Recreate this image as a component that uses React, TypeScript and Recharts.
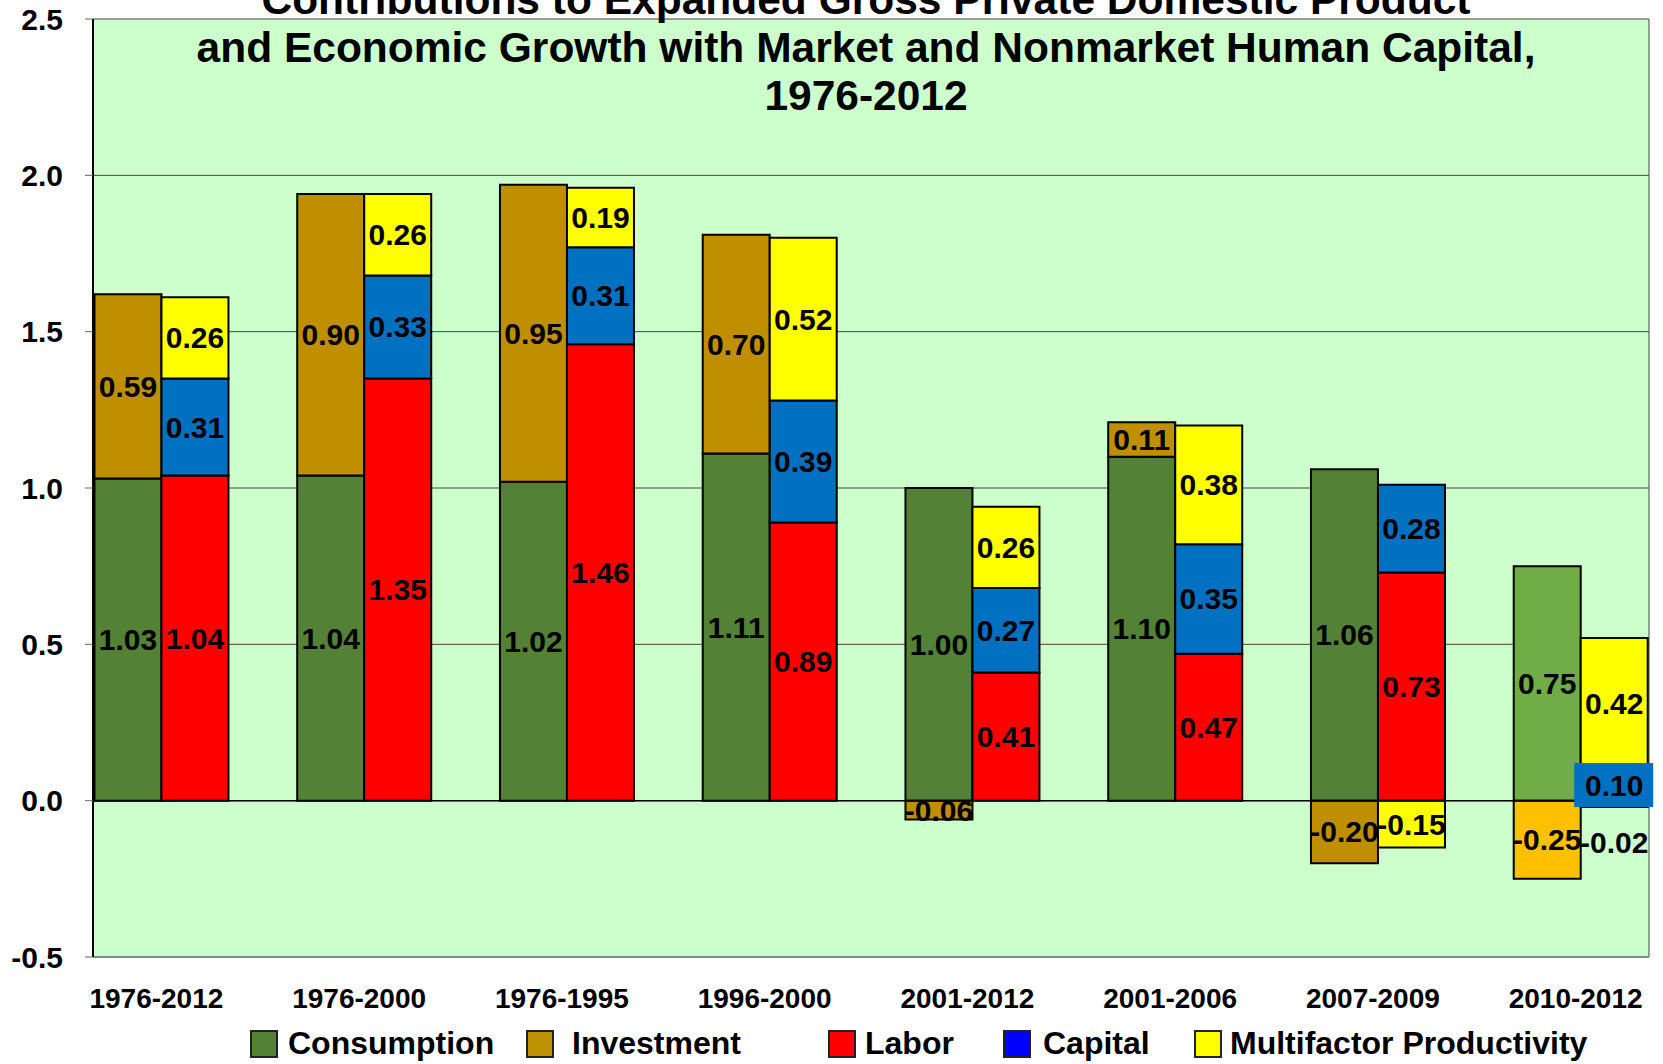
import React from "react";
import {
  BarChart,
  Bar,
  XAxis,
  YAxis,
  CartesianGrid,
  ReferenceLine,
  LabelList,
  Legend,
  Cell,
} from "recharts";

// values, percentage points
const periods = [
  "1976-2012",
  "1976-2000",
  "1976-1995",
  "1996-2000",
  "2001-2012",
  "2001-2006",
  "2007-2009",
  "2010-2012",
];
const consumption = [1.03, 1.04, 1.02, 1.11, 1.0, 1.1, 1.06, 0.75];
const investment = [0.59, 0.9, 0.95, 0.7, -0.06, 0.11, -0.2, -0.25];
const labor = [1.04, 1.35, 1.46, 0.89, 0.41, 0.47, 0.73, -0.02];
const capital = [0.31, 0.33, 0.31, 0.39, 0.27, 0.35, 0.28, 0.1];
const mfp = [0.26, 0.26, 0.19, 0.52, 0.26, 0.38, -0.15, 0.42];

const yTicks = [-0.5, 0, 0.5, 1.0, 1.5, 2.0, 2.5];

const titleLines = [
  "Contributions to Expanded Gross Private Domestic Product",
  "and Economic Growth with Market and Nonmarket Human Capital,",
  "1976-2012",
];

const FONT = "'Liberation Sans', Arial, sans-serif";
const BOXED_PERIOD = "2010-2012";

const COLORS = {
  consumption: "#538135",
  investment: "#BF8F00",
  labor: "#FF0000",
  capital: "#0070C0",
  mfp: "#FFFF00",
};
// the last period is drawn with lighter shades in the original
const LAST_COLORS = { consumption: "#70AD47", investment: "#FFC000" };

const LEGEND_COLORS: Record<string, string> = {
  consumption: "#548235",
  investment: "#BF9000",
  labor: "#FF0000",
  capital: "#0000FF",
  mfp: "#FFFF00",
};
const LEGEND_X: Record<string, number> = {
  consumption: 250,
  investment: 526,
  labor: 828,
  capital: 1003,
  mfp: 1194,
};
const LEGEND_GAP: Record<string, number> = {
  consumption: 10,
  investment: 18,
  labor: 9,
  capital: 12,
  mfp: 8,
};

const data = periods.map((p, i) => ({
  period: p,
  consumption: consumption[i],
  investment: investment[i],
  labor: labor[i],
  capital: capital[i],
  mfp: mfp[i],
}));

const makeLabel = (boxed: boolean) => (props: any) => {
  const vb = props.viewBox || props;
  const x = Number(vb.x ?? props.x);
  const y = Number(vb.y ?? props.y);
  const w = Number(vb.width ?? props.width);
  const h = Number(vb.height ?? props.height);
  const value = Number(props.value);
  const cx = x + w / 2;
  let cy = y + h / 2;
  if (Math.abs(h) < 10) {
    cy = Math.max(y, y + h) + 36;
  }
  const isBoxed = boxed && data[props.index]?.period === BOXED_PERIOD;
  return (
    <g>
      {isBoxed && (
        <rect x={cx - 40} y={cy - 22} width={79} height={44} fill="#0070C0" />
      )}
      <text
        x={cx}
        y={cy}
        textAnchor="middle"
        dominantBaseline="central"
        fontFamily={FONT}
        fontWeight="bold"
        fontSize={30}
        fill="#000"
      >
        {value.toFixed(2)}
      </text>
    </g>
  );
};

const PeriodTick = (props: any) => {
  const { x, y, payload } = props;
  return (
    <text
      x={x - 5}
      y={y + 41}
      textAnchor="middle"
      dominantBaseline="central"
      fontFamily={FONT}
      fontWeight="bold"
      fontSize={28}
      fill="#000"
    >
      {payload.value}
    </text>
  );
};

const renderLegend = (props: any) => {
  const items = props.payload || [];
  return (
    <div style={{ position: "relative", width: 1663, height: 50 }}>
      {items.map((item: any) => {
        const key = item.dataKey as string;
        return (
          <div
            key={key}
            style={{
              position: "absolute",
              left: LEGEND_X[key],
              top: 11,
              display: "flex",
              alignItems: "center",
              fontFamily: FONT,
              fontWeight: "bold",
              fontSize: 32,
              color: "#000",
              whiteSpace: "nowrap",
            }}
          >
            <span
              style={{
                display: "inline-block",
                width: 24,
                height: 24,
                background: LEGEND_COLORS[key],
                border: "2px solid #222",
                marginRight: LEGEND_GAP[key],
              }}
            />
            {item.value}
          </div>
        );
      })}
    </div>
  );
};

export default function App() {
  return (
    <div
      style={{
        position: "absolute",
        left: 0,
        top: 0,
        width: 1663,
        height: 1064,
        overflow: "hidden",
        background: "#fff",
      }}
    >
      <BarChart
        width={1663}
        height={1064}
        data={data}
        stackOffset="sign"
        barCategoryGap="17%"
        barGap={0}
        margin={{ top: 19, right: 14, bottom: 0, left: 0 }}
      >
        <CartesianGrid
          stroke="#444"
          fill="#CCFFCC"
          verticalCoordinatesGenerator={({ offset }: any) => [
            offset.left + offset.width,
          ]}
        />
        <XAxis
          dataKey="period"
          height={57}
          padding={{ left: -33, right: -33 }}
          tickLine={false}
          tickSize={0}
          tickMargin={0}
          axisLine={{ stroke: "#888", strokeWidth: 2 }}
          tick={<PeriodTick />}
          interval={0}
        />
        <YAxis
          width={93}
          domain={[-0.5, 2.5]}
          ticks={yTicks}
          allowDataOverflow
          tickFormatter={(v: number) => v.toFixed(1)}
          tick={{
            fontFamily: FONT,
            fontWeight: "bold",
            fontSize: 30,
            fill: "#000",
          }}
          tickSize={8}
          tickMargin={22}
          tickLine={{ stroke: "#666" }}
          axisLine={{ stroke: "#000", strokeWidth: 2 }}
        />
        <ReferenceLine y={0} stroke="#000" strokeWidth={1.5} />
        <Legend
          verticalAlign="bottom"
          content={renderLegend}
          wrapperStyle={{ left: 0, width: 1663 }}
        />
        <Bar
          dataKey="consumption"
          name="Consumption"
          stackId="output"
          fill={COLORS.consumption}
          stroke="#000"
          strokeWidth={2}
          isAnimationActive={false}
        >
          {data.map((d) => (
            <Cell
              key={d.period}
              fill={
                d.period === BOXED_PERIOD
                  ? LAST_COLORS.consumption
                  : COLORS.consumption
              }
            />
          ))}
          <LabelList dataKey="consumption" content={makeLabel(false)} />
        </Bar>
        <Bar
          dataKey="investment"
          name="Investment"
          stackId="output"
          fill={COLORS.investment}
          stroke="#000"
          strokeWidth={2}
          isAnimationActive={false}
        >
          {data.map((d) => (
            <Cell
              key={d.period}
              fill={
                d.period === BOXED_PERIOD
                  ? LAST_COLORS.investment
                  : COLORS.investment
              }
            />
          ))}
          <LabelList dataKey="investment" content={makeLabel(false)} />
        </Bar>
        <Bar
          dataKey="labor"
          name="Labor"
          stackId="input"
          fill={COLORS.labor}
          stroke="#000"
          strokeWidth={2}
          isAnimationActive={false}
        >
          <LabelList dataKey="labor" content={makeLabel(false)} />
        </Bar>
        <Bar
          dataKey="capital"
          name="Capital"
          stackId="input"
          fill={COLORS.capital}
          stroke="#000"
          strokeWidth={2}
          isAnimationActive={false}
        >
          <LabelList dataKey="capital" content={makeLabel(true)} />
        </Bar>
        <Bar
          dataKey="mfp"
          name="Multifactor Productivity"
          stackId="input"
          fill={COLORS.mfp}
          stroke="#000"
          strokeWidth={2}
          isAnimationActive={false}
        >
          <LabelList dataKey="mfp" content={makeLabel(false)} />
        </Bar>
      </BarChart>
      <div
        style={{
          position: "absolute",
          left: 66,
          top: -24,
          width: 1600,
          textAlign: "center",
          fontFamily: FONT,
          fontWeight: "bold",
          fontSize: 42.5,
          lineHeight: "48px",
          color: "#000",
          pointerEvents: "none",
        }}
      >
        {titleLines.map((t) => (
          <div key={t}>{t}</div>
        ))}
      </div>
    </div>
  );
}
